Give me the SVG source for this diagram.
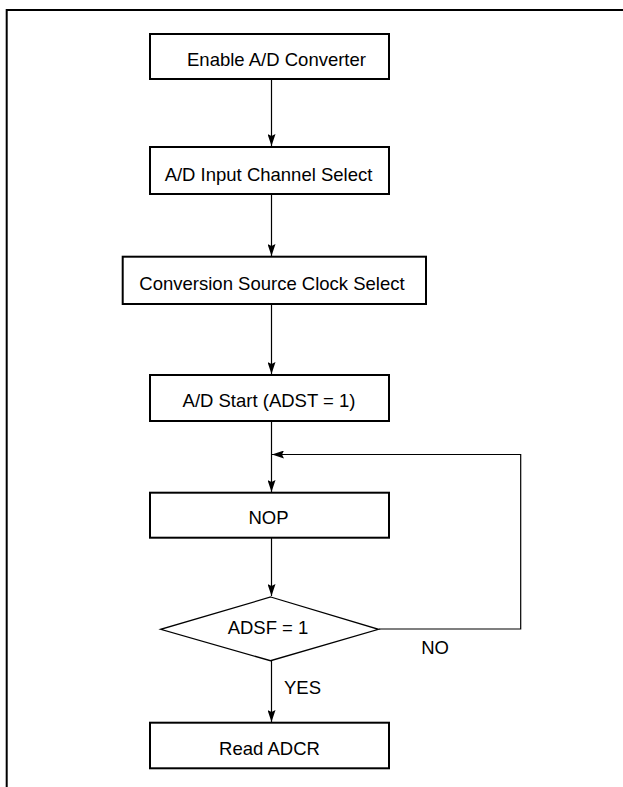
<svg xmlns="http://www.w3.org/2000/svg" width="623" height="787" viewBox="0 0 623 787">
<style>
  .box { fill: #fff; stroke: #000; stroke-width: 2; }
  .lbl { font-family: "Liberation Sans", Arial, sans-serif; font-size: 18.5px; fill: #000; text-anchor: middle; }
  .edge { fill: none; stroke: #000; stroke-width: 1.2; }
  .frame { fill: none; stroke: #000; stroke-width: 2; }
</style>
<defs>
  <marker id="arr" viewBox="0 0 12 8" refX="12" refY="4" markerWidth="12" markerHeight="8" markerUnits="userSpaceOnUse" orient="auto">
    <path d="M0,0 L12,4 L0,8 L2,4 Z" fill="#000"/>
  </marker>
</defs>
<rect width="623" height="787" fill="#fff"/>
<path class="frame" d="M6.7,800 V10 H640"/>

<g id="connectors">
  <line class="edge" x1="271.5" y1="79" x2="271.5" y2="146" marker-end="url(#arr)"/>
  <line class="edge" x1="271.5" y1="194" x2="271.5" y2="256" marker-end="url(#arr)"/>
  <line class="edge" x1="271.5" y1="304" x2="271.5" y2="374" marker-end="url(#arr)"/>
  <line class="edge" x1="271.5" y1="421" x2="271.5" y2="492" marker-end="url(#arr)"/>
  <line class="edge" x1="271.5" y1="538" x2="271.5" y2="596" marker-end="url(#arr)"/>
  <line class="edge" x1="271.5" y1="661" x2="271.5" y2="722" marker-end="url(#arr)"/>
  <polyline class="edge" points="379,629 520.7,629 520.7,454.5 272,454.5" marker-end="url(#arr)"/>
  <text class="lbl" x="435" y="654">NO</text>
  <text class="lbl" x="302.5" y="694">YES</text>
</g>

<g id="enable">
  <rect class="box" x="150" y="34" width="239" height="45"/>
  <text class="lbl" x="276.5" y="65.5">Enable A/D Converter</text>
</g>
<g id="channel">
  <rect class="box" x="150" y="147" width="239" height="47"/>
  <text class="lbl" x="268.5" y="181">A/D Input Channel Select</text>
</g>
<g id="clock">
  <rect class="box" x="122.7" y="256.7" width="303.3" height="47.3"/>
  <text class="lbl" x="272" y="290">Conversion Source Clock Select</text>
</g>
<g id="start">
  <rect class="box" x="150" y="375" width="239" height="46"/>
  <text class="lbl" x="269" y="406.5">A/D Start (ADST = 1)</text>
</g>
<g id="nop">
  <rect class="box" x="150" y="492.7" width="239" height="45"/>
  <text class="lbl" x="268.5" y="524">NOP</text>
</g>
<g id="decision">
  <polygon class="box" style="stroke-width:1.3" points="270.7,597 378.5,629.3 270.5,660.7 160.7,629.3"/>
  <text class="lbl" x="268" y="634">ADSF = 1</text>
</g>
<g id="read">
  <rect class="box" x="150" y="722.7" width="239" height="45.6"/>
  <text class="lbl" x="269.5" y="754.5">Read ADCR</text>
</g>
</svg>
